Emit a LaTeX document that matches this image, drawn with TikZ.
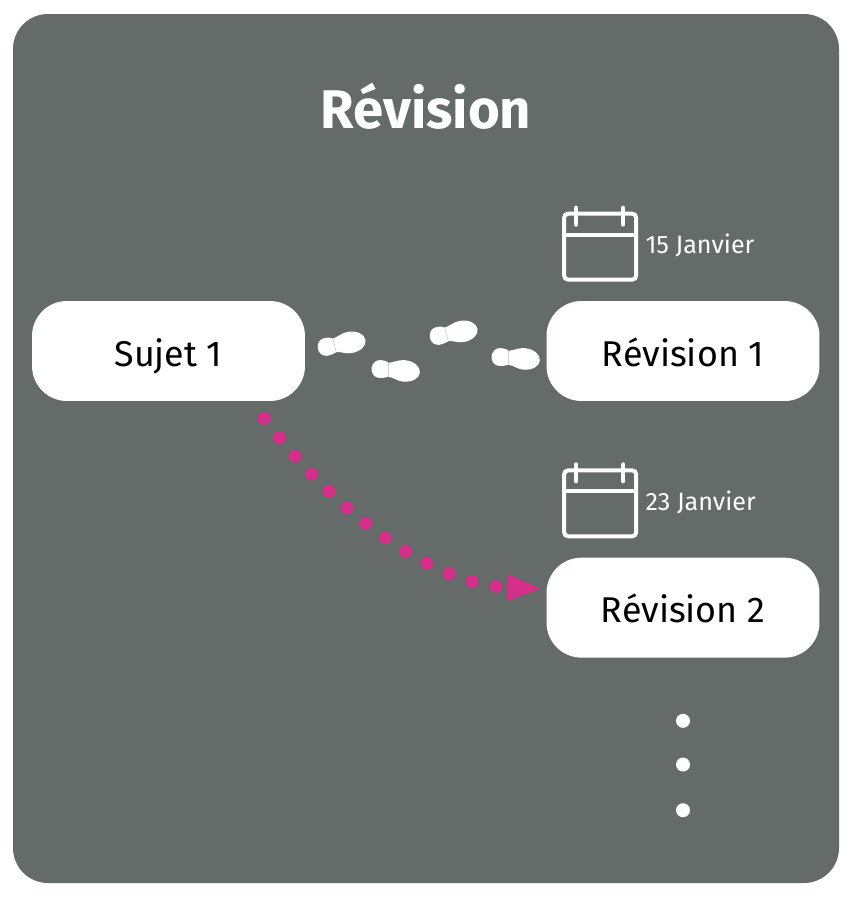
\documentclass[tikz,border=0pt]{standalone}
\usepackage{fontspec}
\setmainfont{Fira Sans}
\usetikzlibrary{positioning, calc, arrows.meta}

\definecolor{fond}{HTML}{646B68}
\definecolor{magenta}{HTML}{D62F8B}

\begin{document}
\begin{tikzpicture}[
    x=0.02cm, y=-0.02cm,
    every node/.style={inner sep=0pt},
    node distance=3.12cm,
    cadre/.style={fill=fond, rounded corners=0.7cm},
    bloc/.style={fill=white, rounded corners=0.7cm, minimum width=5.46cm, minimum height=2cm, align=center, text height=0.6cm, text depth=0pt, font=\fontsize{20.4}{25}\selectfont},
    titre/.style={text=white, font=\fontsize{31}{36}\selectfont\bfseries},
    date/.style={text=white, anchor=west, font=\fontsize{14.3}{16}\selectfont},
    point/.style={circle, fill=white, minimum size=0.28cm},
    pointille/.style={draw=magenta, line width=0.26cm, line cap=round, dash pattern=on 0pt off 0.488cm},
    pics/pas/.style={code={
        \fill[white] (-3,-7) .. controls (-6,-9) and (-9,-9) .. (-11,-9) .. controls (-16,-9) and (-19.5,-5) .. (-19.5,0) .. controls (-19.5,5) and (-16,9) .. (-11,9) .. controls (-8,9) and (-5,8) .. (-2,7) -- cycle;
        \fill[white] (-3,-7) .. controls (3,-8) and (6,-11) .. (13,-11) .. controls (22,-11) and (29,-6) .. (29,0) .. controls (29,6) and (22,10.5) .. (13,10.5) .. controls (7,10.5) and (3,7) .. (-2,7) -- cycle;
        \draw[fond!40!white, line width=0.2pt] (-3,-7) -- (-2,7);
    }},
    pics/calendrier/.style={code={
        \draw[white, line width=0.08cm, rounded corners=0.08cm] (-36,-33) rectangle (36,33);
        \draw[white, line width=0.08cm] (-36,-12) -- (36,-12);
        \foreach \x in {-24,23} {
            \draw[white, line width=0.08cm, line cap=round] (\x,-39) -- (\x,-22);
        }
    }}
]
    \useasboundingbox (0,0) rectangle (860,904);

    % Fond
    \fill[cadre] (13,14) rectangle (839,883);
    \node[titre] (revision) at (426,106) {Révision};

    % Blocs
    \node[bloc] (sujet) at (168.5,351) {Sujet 1};
    \node[bloc] (reva) at (683,351) {Révision 1};
    \node[bloc, below=of reva] (revb) {Révision 2};

    % Calendriers
    \foreach \bloc/\jour in {reva/15 Janvier, revb/23 Janvier} {
        \pic at ($(\bloc.north west)+(54,-54)$) {calendrier};
        \node[date] (date\bloc) at ($(\bloc.north west)+(99,-55)$) {\jour};
    }

    % Pas
    \foreach \x/\y/\a in {337/345/10, 391/370/-5, 449/334/10, 511/358/-5} {
        \pic[rotate=\a] at (\x,\y) {pas};
    }

    % Fleche
    \coordinate (depart) at ($(sujet.south east)+(-41,17)$);
    \draw[pointille, -{Triangle[length=0.7cm, width=0.48cm]}] (depart) .. controls (335,512) and (432,585) .. ($(revb.west)+(-4,-19)$);

    % Points de suite
    \node[point, below=1.11cm of revb] (suitea) {};
    \node[point, below=0.58cm of suitea] (suiteb) {};
    \node[point, below=0.62cm of suiteb] (suitec) {};

\end{tikzpicture}
\end{document}
